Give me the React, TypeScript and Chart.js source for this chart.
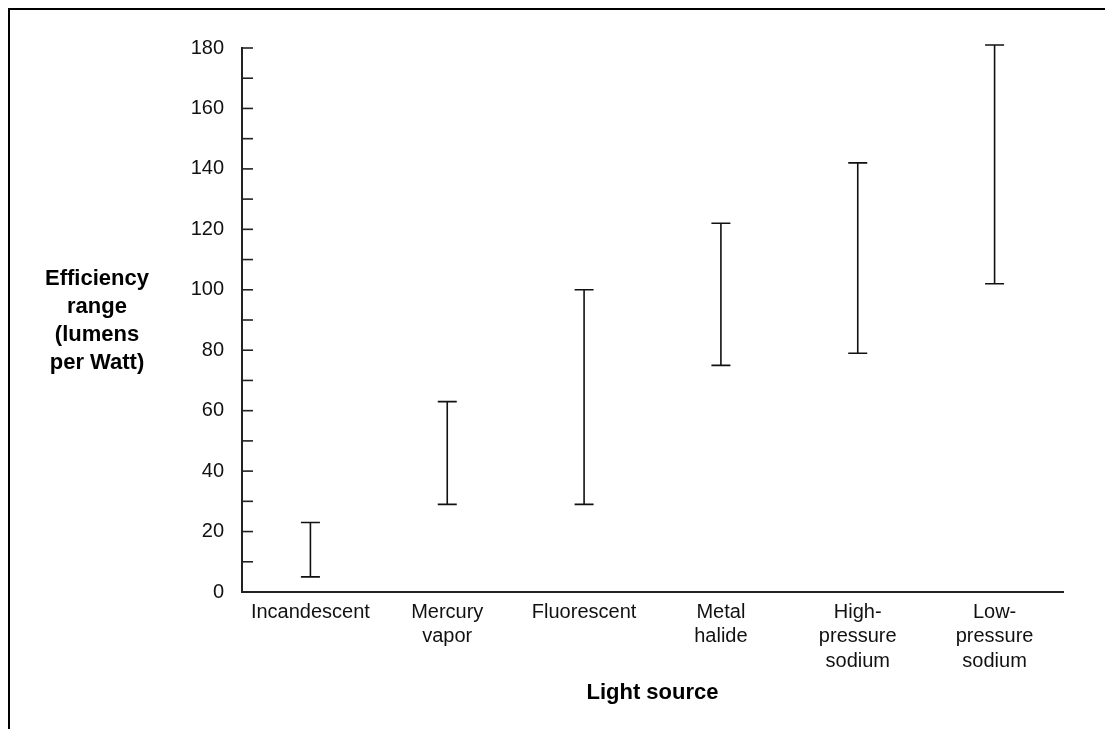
import React, { useEffect, useRef } from "react";
import { Chart, registerables } from "chart.js";

Chart.register(...registerables);

// ---- Data ----
const categories: string[][] = [
  ["Incandescent"],
  ["Mercury", "vapor"],
  ["Fluorescent"],
  ["Metal", "halide"],
  ["High-", "pressure", "sodium"],
  ["Low-", "pressure", "sodium"],
];
const lowValues = [5, 29, 29, 75, 79, 102];
const highValues = [23, 63, 100, 122, 142, 181];
const yMin = 0;
const yMax = 180;
const yMajorStep = 20;
const yMinorStep = 10;
const xTitle = "Light source";
const yTitleLines = ["Efficiency", "range", "(lumens", "per Watt)"];

const FONT = "'Liberation Sans', Arial, Helvetica, sans-serif";

const errorBarPlugin = {
  id: "errorBars",
  afterDatasetsDraw(chart: any) {
    const { ctx } = chart;
    const meta = chart.getDatasetMeta(0);
    const y = chart.scales.y;
    const capHalf = 9.5;
    ctx.save();
    ctx.strokeStyle = "#111";
    ctx.lineWidth = 1.6;
    meta.data.forEach((el: any, i: number) => {
      const x = el.x;
      const yl = y.getPixelForValue(lowValues[i]);
      const yh = y.getPixelForValue(highValues[i]);
      ctx.beginPath();
      ctx.moveTo(x, yl);
      ctx.lineTo(x, yh);
      ctx.moveTo(x - capHalf, yl);
      ctx.lineTo(x + capHalf, yl);
      ctx.moveTo(x - capHalf, yh);
      ctx.lineTo(x + capHalf, yh);
      ctx.stroke();
    });
    ctx.restore();
  },
};

const innerTicksPlugin = {
  id: "innerTicks",
  afterDraw(chart: any) {
    const { ctx, chartArea } = chart;
    const y = chart.scales.y;
    ctx.save();
    ctx.strokeStyle = "#222";
    ctx.lineWidth = 1.6;
    for (let v = yMin + yMinorStep; v <= yMax; v += yMinorStep) {
      const py = y.getPixelForValue(v);
      ctx.beginPath();
      ctx.moveTo(chartArea.left, py);
      ctx.lineTo(chartArea.left + 11, py);
      ctx.stroke();
    }
    ctx.restore();
  },
};

export default function App() {
  const canvasRef = useRef<HTMLCanvasElement | null>(null);

  useEffect(() => {
    if (!canvasRef.current) return;
    Chart.defaults.font.family = FONT;
    const chart = new Chart(canvasRef.current, {
      type: "bar",
      data: {
        labels: categories,
        datasets: [
          {
            data: lowValues.map((l, i) => [l, highValues[i]]),
            backgroundColor: "rgba(0,0,0,0)",
            borderWidth: 0,
          },
        ],
      },
      options: {
        responsive: false,
        animation: false,
        layout: { padding: { top: 40, right: 42, left: 0, bottom: 0 } },
        plugins: {
          legend: { display: false },
          tooltip: { enabled: false },
        },
        scales: {
          x: {
            type: "category",
            offset: true,
            grid: { display: false, drawTicks: false },
            border: { display: true, color: "#222", width: 2 },
            ticks: {
              color: "#111",
              font: { size: 20, lineHeight: 1.22, family: FONT },
              padding: 8,
              maxRotation: 0,
              autoSkip: false,
            },
            title: {
              display: true,
              text: xTitle,
              color: "#000",
              font: { size: 22, weight: "bold", lineHeight: 1.2, family: FONT },
              padding: { top: 0, bottom: 23 },
            },
            afterFit: (s: any) => {
              s.height = 137;
            },
          },
          y: {
            min: yMin,
            max: yMax,
            grid: { display: false, drawTicks: false },
            border: { display: true, color: "#222", width: 2 },
            ticks: {
              stepSize: yMajorStep,
              padding: 18,
              color: "#111",
              font: { size: 20, family: FONT },
            },
            afterFit: (s: any) => {
              s.width = 234;
            },
          },
        },
      },
      plugins: [errorBarPlugin, innerTicksPlugin],
    } as any);
    return () => chart.destroy();
  }, []);

  return (
    <div style={{ position: "relative", width: 1089, height: 713 }}>
      <div
        style={{
          position: "fixed",
          left: 8,
          top: 8,
          right: 0,
          bottom: 0,
          borderTop: "2px solid #000",
          borderLeft: "2px solid #000",
          pointerEvents: "none",
        }}
      />
      <canvas
        ref={canvasRef}
        width={1097}
        height={721}
        style={{ position: "absolute", left: 0, top: 0, width: 1097, height: 721 }}
      />
      <div
        style={{
          position: "absolute",
          left: 9,
          top: 256,
          width: 160,
          textAlign: "center",
          fontFamily: FONT,
          fontWeight: "bold",
          fontSize: 22,
          lineHeight: "28px",
          color: "#000",
        }}
      >
        {yTitleLines.map((t, i) => (
          <div key={i}>{t}</div>
        ))}
      </div>
    </div>
  );
}
